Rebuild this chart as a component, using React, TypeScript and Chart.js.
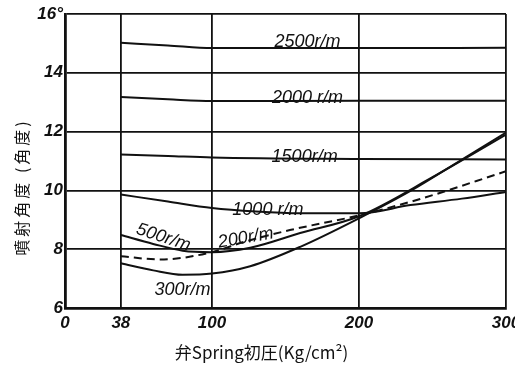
import React, { useEffect, useRef } from 'react';
import { Chart, registerables } from 'chart.js';

Chart.register(...registerables);

// ---- data ----
const xTickValues = [0, 38, 100, 200, 300];
const yTickValues = [6, 8, 10, 12, 14, 16];

const rpm2500X = [38, 70, 100, 200, 300];
const rpm2500Y = [15.02, 14.93, 14.84, 14.84, 14.85];

const rpm2000X = [38, 70, 100, 200, 300];
const rpm2000Y = [13.18, 13.1, 13.04, 13.05, 13.05];

const rpm1500X = [38, 70, 100, 200, 300];
const rpm1500Y = [11.22, 11.17, 11.12, 11.07, 11.05];

const rpm1000X = [38, 70, 100, 130, 160, 200, 235, 270, 300];
const rpm1000Y = [9.86, 9.62, 9.4, 9.28, 9.22, 9.22, 9.5, 9.72, 9.95];

const rpm500X = [38, 60, 80, 100, 126, 160, 200, 250, 300];
const rpm500Y = [8.48, 8.18, 7.95, 7.9, 8.05, 8.55, 9.12, 10.45, 11.9];

const rpm300X = [38, 60, 80, 100, 126, 160, 200, 235, 270, 300];
const rpm300Y = [7.52, 7.28, 7.13, 7.17, 7.42, 8.08, 9.05, 9.98, 11.05, 11.97];

const rpm200X = [38, 65, 100, 122, 153, 200, 241, 300];
const rpm200Y = [7.76, 7.65, 7.9, 8.25, 8.65, 9.15, 9.7, 10.65];

// curve labels, anchored in data units
const curveLabelText = ['2500r/m', '2000 r/m', '1500r/m', '1000 r/m', '500r/m', '200r/m', '300r/m'];
const curveLabelX = [165, 165, 163, 138, 67, 123, 80];
const curveLabelY = [15.05, 13.14, 11.14, 9.33, 8.4, 8.38, 6.6];
const curveLabelAngleDeg = [0, 0, 0, 0, 18, -10, 0];

const xTitle = '弁Spring初圧(Kg/cm²)';
const yTitle = '噴射角度 (角度)';

const INK = '#111111';

const toPoints = (xs: number[], ys: number[]) => xs.map((x, i) => ({ x, y: ys[i] }));

const textPlugin = {
  id: 'handTexts',
  afterDraw(chart: any) {
    const { ctx, chartArea } = chart;
    const xs = chart.scales.x;
    const ys = chart.scales.y;
    ctx.save();
    ctx.fillStyle = INK;
    ctx.textAlign = 'center';
    ctx.textBaseline = 'middle';
    ctx.font = "italic 18px 'Liberation Sans'";
    curveLabelText.forEach((t, i) => {
      const px = xs.getPixelForValue(curveLabelX[i]);
      const py = ys.getPixelForValue(curveLabelY[i]);
      ctx.save();
      ctx.translate(px, py);
      ctx.rotate((curveLabelAngleDeg[i] * Math.PI) / 180);
      ctx.fillText(t, 0, 0);
      ctx.restore();
    });
    ctx.font = "17px 'Noto Sans CJK JP'";
    ctx.fillText(xTitle, (chartArea.left + chartArea.right) / 2 - 24, chartArea.bottom + 45);
    ctx.save();
    ctx.font = "16px 'Noto Sans CJK JP'";
    (ctx as any).letterSpacing = '3px';
    ctx.translate(22, (chartArea.top + chartArea.bottom) / 2 + 26);
    ctx.rotate(-Math.PI / 2);
    ctx.fillText(yTitle, 0, 0);
    ctx.restore();
    ctx.restore();
  },
};

export default function App() {
  const canvasRef = useRef<HTMLCanvasElement | null>(null);

  useEffect(() => {
    if (!canvasRef.current) return;
    const line = (xs: number[], ys: number[], dashed = false) => ({
      data: toPoints(xs, ys),
      borderColor: INK,
      borderWidth: 2,
      borderDash: dashed ? [8, 5] : [],
      pointRadius: 0,
      fill: false,
      cubicInterpolationMode: 'monotone' as const,
    });
    const tickFont = { family: 'Liberation Sans', size: 17, style: 'italic' as const, weight: 'bold' as const };
    const chart = new Chart(canvasRef.current, {
      type: 'line',
      data: {
        datasets: [
          line(rpm2500X, rpm2500Y),
          line(rpm2000X, rpm2000Y),
          line(rpm1500X, rpm1500Y),
          line(rpm1000X, rpm1000Y),
          line(rpm500X, rpm500Y),
          line(rpm300X, rpm300Y),
          line(rpm200X, rpm200Y, true),
        ],
      },
      options: {
        responsive: false,
        animation: false,
        layout: { padding: { left: 8, right: 9, top: 14, bottom: 0 } },
        plugins: { legend: { display: false }, tooltip: { enabled: false } },
        scales: {
          x: {
            type: 'linear',
            min: 0,
            max: 300,
            afterBuildTicks: (s: any) => {
              s.ticks = xTickValues.map((v) => ({ value: v }));
            },
            afterFit: (s: any) => {
              s.height = 59;
              s.paddingLeft = 0;
              s.paddingRight = 0;
            },
            grid: { color: INK, lineWidth: 1.8, drawTicks: false },
            border: { color: INK, width: 2.8 },
            ticks: {
              color: INK,
              padding: 5,
              autoSkip: false,
              maxRotation: 0,
              font: tickFont,
              callback: (v: any) => String(v),
            },
          },
          y: {
            type: 'linear',
            min: 6,
            max: 16,
            afterBuildTicks: (s: any) => {
              s.ticks = yTickValues.map((v) => ({ value: v }));
            },
            afterFit: (s: any) => {
              s.width = 57;
              s.paddingTop = 0;
              s.paddingBottom = 0;
            },
            grid: { color: INK, lineWidth: 1.8, drawTicks: false },
            border: { color: INK, width: 2.8 },
            ticks: {
              color: INK,
              padding: 2,
              font: tickFont,
              callback: (v: any) => (v === 16 ? '16°' : String(v)),
            },
          },
        },
      },
      plugins: [textPlugin],
    });
    return () => chart.destroy();
  }, []);

  return (
    <div style={{ position: 'fixed', left: 0, top: 0, width: 515, height: 367, background: '#fff' }}>
      <canvas ref={canvasRef} width={515} height={367} />
    </div>
  );
}
